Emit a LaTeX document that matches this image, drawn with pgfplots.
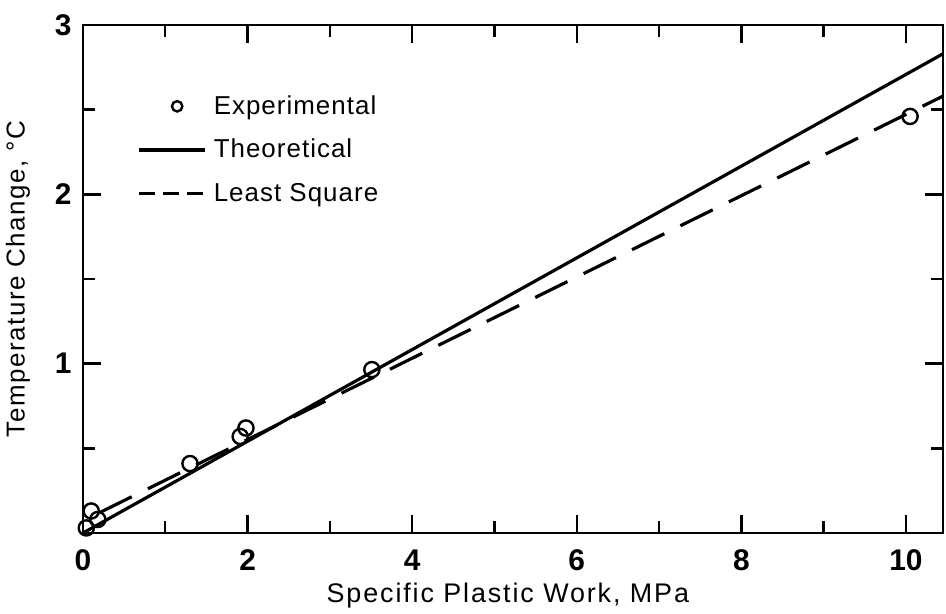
\documentclass[border=0pt]{standalone}
\usepackage{fontspec}
\setmainfont{Liberation Sans}
\usepackage{pgfplots}
\pgfplotsset{compat=1.18}
\pgfplotsset{
  explegend/.style={legend image code/.code={\draw[##1, mark size=2.6bp] plot coordinates {(19bp,0bp)};}},
  sollegend/.style={legend image code/.code={\draw[##1] (0bp,0bp) -- (33bp,0bp);}},
  dashlegend/.style={legend image code/.code={\draw[##1, dash pattern=on 8bp off 4bp] (0bp,0bp) -- (34bp,0bp);}},
}
\begin{document}
\begin{tikzpicture}
\begin{axis}[
  scale only axis, width=430bp, height=254bp,
  xmin=0, xmax=10.45, ymin=0, ymax=3,
  xtick={0,2,4,6,8,10}, minor xtick={1,3,5,7,9},
  ytick={1,2,3}, minor ytick={0.5,1.5,2.5},
  tick align=inside, tick pos=both,
  major tick length=9bp, minor tick length=6bp,
  axis line style={line width=1.4pt},
  every tick/.style={line width=1.2pt, black},
  /pgf/number format/assume math mode=true,
  tick label style={font=\fontsize{15}{17}\selectfont\bfseries},
  xticklabel style={anchor=base, yshift=-18.5bp},
  yticklabel style={anchor=east, inner sep=0pt, xshift=-5.5bp},
  xlabel={Specific Plastic Work, MPa},
  ylabel={Temperature Change, °C},
  every axis x label/.style={at={(axis description cs:0.494,0)}, anchor=base, yshift=-34.5bp,
    font=\fontsize{13.5}{15}\selectfont\addfontfeatures{LetterSpace=7}},
  every axis y label/.style={at={(axis description cs:-0.0756,0.5)}, rotate=90, anchor=center,
    font=\fontsize{13}{15}\selectfont\addfontfeatures{LetterSpace=6}},
  legend style={draw=none, fill=none, at={(0.063,0.872)}, anchor=north west,
    font=\fontsize{13}{15}\selectfont\addfontfeatures{LetterSpace=4}, row sep=6bp, inner sep=0pt,
    nodes={inner sep=2.5bp}},
  legend cell align=left,
  clip=true,
]
\addplot[only marks, mark=o, mark size=3.8bp, mark options={line width=1.2pt, fill=white, draw=black}, explegend]
  coordinates {
  (0.04,0.03) (0.10,0.13) (0.18,0.08) (1.30,0.41) (1.91,0.57) (1.98,0.62) (3.51,0.965) (10.05,2.46)
  };
\addlegendentry{Experimental}
\addplot[black, line width=1.6pt, sollegend]
  coordinates {(0,0) (10.45,2.83)};
\addlegendentry{Theoretical}
\addplot[black, line width=1.6pt, dash pattern=on 18bp off 9bp, dashlegend]
  coordinates {(0.2,0.12) (10.45,2.58)};
\addlegendentry{Least Square}
\end{axis}
\pgfresetboundingbox
\path (current axis.south west) ++(-41.5bp,-40.5bp) rectangle ([shift={(1.5bp,12.5bp)}]current axis.north east);
\end{tikzpicture}
\end{document}
